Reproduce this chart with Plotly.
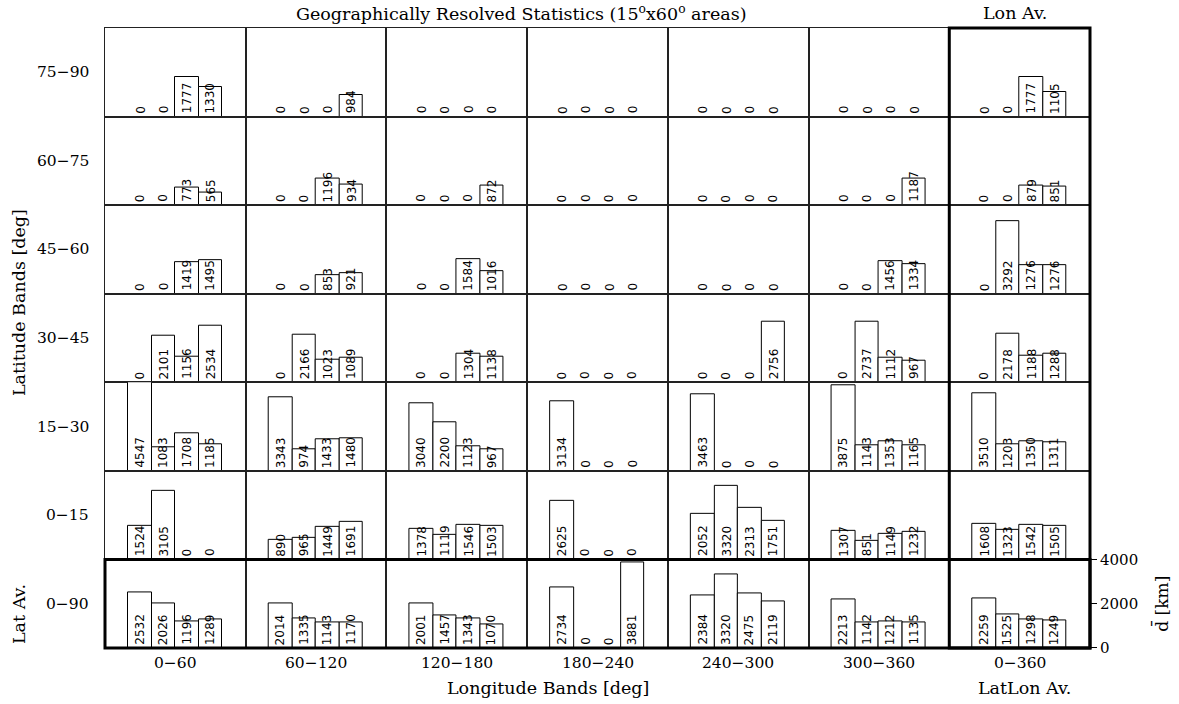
import plotly.graph_objects as go
from plotly.subplots import make_subplots

# Band labels (rows: latitude, columns: longitude)
lat_bands = ["75−90", "60−75", "45−60", "30−45", "15−30", "0−15", "0−90"]
lon_bands = ["0−60", "60−120", "120−180", "180−240", "240−300", "300−360", "0−360"]
bar_slots = [0, 1, 2, 3]

# Mean distance d̄ [km]; per latitude band, one group of 4 bars per longitude band
d_75_90 = [[0, 0, 1777, 1330], [0, 0, 0, 984], [0, 0, 0, 0], [0, 0, 0, 0],
           [0, 0, 0, 0], [0, 0, 0, 0], [0, 0, 1777, 1105]]
d_60_75 = [[0, 0, 773, 565], [0, 0, 1196, 934], [0, 0, 0, 872], [0, 0, 0, 0],
           [0, 0, 0, 0], [0, 0, 0, 1187], [0, 0, 879, 851]]
d_45_60 = [[0, 0, 1419, 1495], [0, 0, 853, 921], [0, 0, 1584, 1016], [0, 0, 0, 0],
           [0, 0, 0, 0], [0, 0, 1456, 1334], [0, 3292, 1276, 1276]]
d_30_45 = [[0, 2101, 1156, 2534], [0, 2166, 1023, 1089], [0, 0, 1304, 1138], [0, 0, 0, 0],
           [0, 0, 0, 2756], [0, 2737, 1112, 967], [0, 2178, 1188, 1288]]
d_15_30 = [[4547, 1083, 1708, 1185], [3343, 974, 1433, 1480], [3040, 2200, 1123, 967],
           [3134, 0, 0, 0], [3463, 0, 0, 0], [3875, 1143, 1353, 1165], [3510, 1203, 1350, 1311]]
d_0_15 = [[1524, 3105, 0, 0], [890, 965, 1449, 1691], [1378, 1119, 1546, 1503],
          [2625, 0, 0, 0], [2052, 3320, 2313, 1751], [1307, 851, 1149, 1232], [1608, 1323, 1542, 1505]]
d_lat_av = [[2532, 2026, 1196, 1289], [2014, 1335, 1143, 1170], [2001, 1457, 1343, 1070],
            [2734, 0, 0, 3881], [2384, 3320, 2475, 2119], [2213, 1142, 1212, 1135], [2259, 1525, 1298, 1249]]

rows_data = [d_75_90, d_60_75, d_45_60, d_30_45, d_15_30, d_0_15, d_lat_av]

W, H = 1179, 704
L, R, T, B = 105, 89, 28, 56
PW, PH = W - L - R, H - T - B


def px(x):
    return (x - L) / PW


def py(y):
    return (H - B - y) / PH


SERIF = "DejaVu Serif"
SANS = "DejaVu Sans"

fig = make_subplots(rows=7, cols=7, horizontal_spacing=0, vertical_spacing=0)

annotations = []
for r, row_vals in enumerate(rows_data, start=1):
    for c, vals in enumerate(row_vals, start=1):
        fig.add_trace(
            go.Bar(x=bar_slots, y=vals, width=1,
                   marker=dict(color="white", line=dict(color="black", width=1)),
                   showlegend=False, hoverinfo="skip"),
            row=r, col=c)
        n = (r - 1) * 7 + c
        xr = "x" if n == 1 else f"x{n}"
        yr = "y" if n == 1 else f"y{n}"
        for s, v in zip(bar_slots, vals):
            annotations.append(dict(
                text=str(v), x=s, y=0, xref=xr, yref=yr, showarrow=False,
                textangle=-90, xanchor="center", yanchor="bottom", yshift=2,
                borderpad=0, font=dict(family=SANS, size=12, color="black")))

fig.update_xaxes(range=[-1.5, 4.5], showticklabels=False, ticks="", showgrid=False,
                 zeroline=False, showline=True, mirror=True, linecolor="#222",
                 linewidth=1, fixedrange=True)
fig.update_yaxes(range=[0, 4000], showticklabels=False, ticks="", showgrid=False,
                 zeroline=False, showline=True, mirror=True, linecolor="#222",
                 linewidth=1, fixedrange=True)

# Value scale on the right of the corner cell
fig.update_yaxes(row=7, col=7, side="right", showticklabels=True, ticks="outside",
                 tickvals=[0, 2000, 4000], ticklen=6, tickwidth=1, tickcolor="black",
                 tickfont=dict(family=SERIF, size=15, color="black"),
                 title=dict(text="d\u0304 [km]", standoff=18,
                            font=dict(family=SERIF, size=17, color="black")))

# Row labels
for i, lab in enumerate(lat_bands):
    yc = T + PH * (i + 0.5) / 7
    annotations.append(dict(text=lab, x=px(91), y=py(yc), xref="paper", yref="paper",
                            showarrow=False, xanchor="right", yanchor="middle",
                            font=dict(family=SERIF, size=15.5, color="black")))

# Column labels
for j, lab in enumerate(lon_bands):
    xc = L + PW * (j + 0.5) / 7
    annotations.append(dict(text=lab, x=px(xc), y=py(663), xref="paper", yref="paper",
                            showarrow=False, xanchor="center", yanchor="middle",
                            font=dict(family=SERIF, size=15.5, color="black")))

side_texts = [
    ("Geographically Resolved Statistics (15<sup>o</sup>x60<sup>o</sup> areas)", 521, 13, 0),
    ("Lon Av.", 1015, 13, 0),
    ("Longitude Bands [deg]", 548, 688, 0),
    ("LatLon Av.", 1024, 688, 0),
    ("Latitude Bands [deg]", 19, 303, -90),
    ("Lat Av.", 19, 614, -90),
]
for txt, x, y, ang in side_texts:
    annotations.append(dict(text=txt, x=px(x), y=py(y), xref="paper", yref="paper",
                            showarrow=False, xanchor="center", yanchor="middle",
                            textangle=ang, font=dict(family=SERIF, size=17.5, color="black")))

# Heavy frames around the averaged column and row
shapes = [
    dict(type="rect", xref="paper", yref="paper", x0=6 / 7, x1=1, y0=0, y1=1,
         line=dict(color="black", width=3), fillcolor="rgba(0,0,0,0)"),
    dict(type="rect", xref="paper", yref="paper", x0=0, x1=1, y0=0, y1=1 / 7,
         line=dict(color="black", width=3), fillcolor="rgba(0,0,0,0)"),
]

fig.update_layout(
    width=W, height=H, margin=dict(l=L, r=R, t=T, b=B),
    paper_bgcolor="white", plot_bgcolor="white", bargap=0,
    annotations=annotations, shapes=shapes, showlegend=False,
)

fig.write_html("out.html")
